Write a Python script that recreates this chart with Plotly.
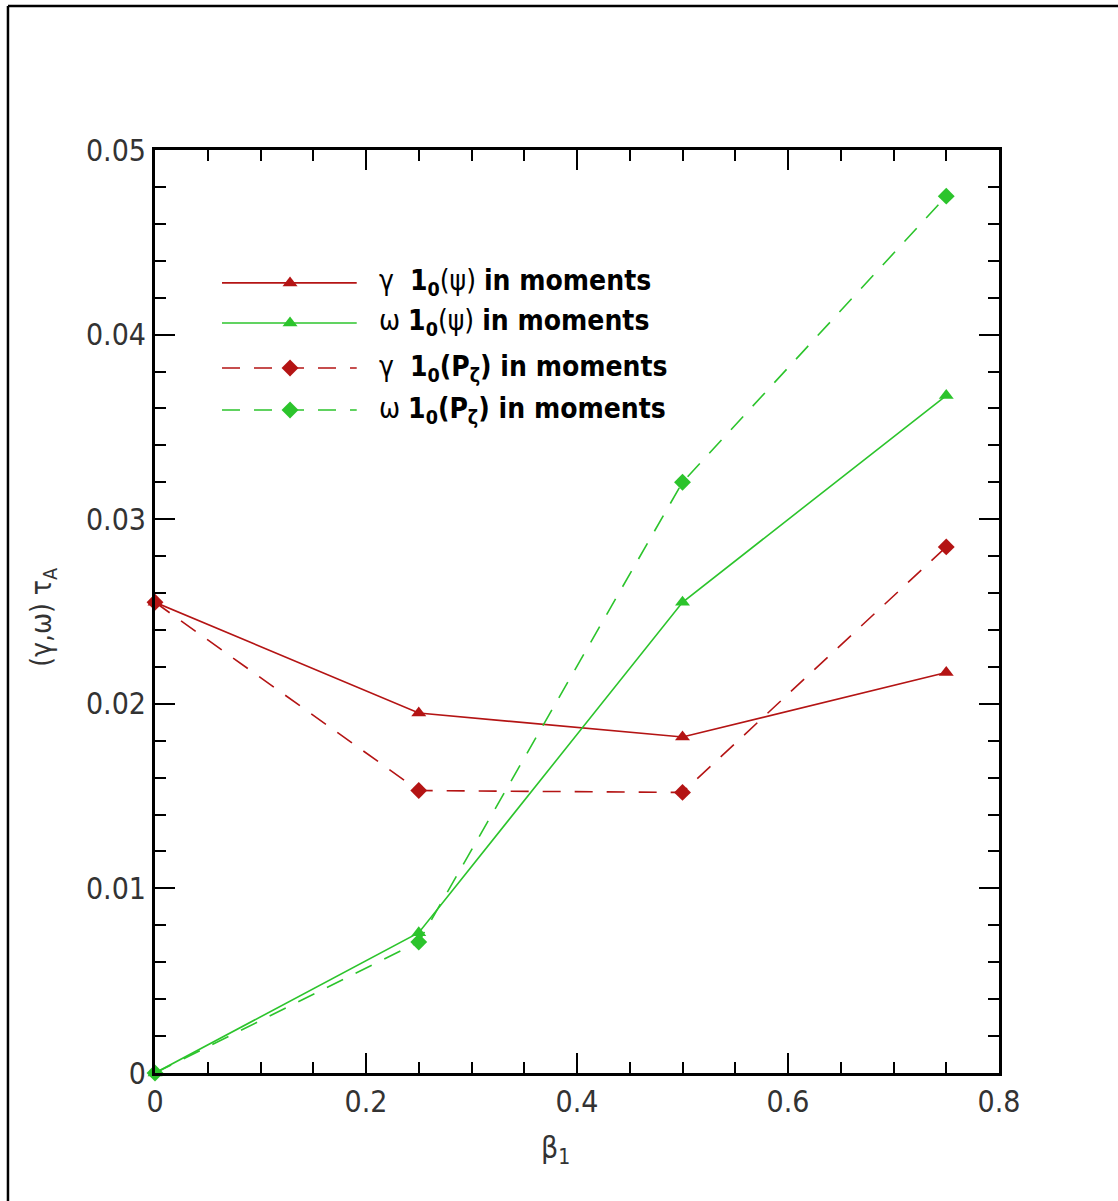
import plotly.graph_objects as go

# beta_1 values
beta = [0.0, 0.25, 0.5, 0.75]

# growth rate / frequency (normalised by tau_A)
gamma_psi = [0.0255, 0.0195, 0.0182, 0.0217]   # gamma, I0(psi) in moments
omega_psi = [0.0, 0.0076, 0.0255, 0.0367]      # omega, I0(psi) in moments
gamma_pz = [0.0255, 0.0153, 0.0152, 0.0285]    # gamma, I0(P_zeta) in moments
omega_pz = [0.0, 0.0071, 0.0320, 0.0475]       # omega, I0(P_zeta) in moments

x_ticks = [0, 0.2, 0.4, 0.6, 0.8]
y_ticks = [0, 0.01, 0.02, 0.03, 0.04, 0.05]

legend_labels = [
    "γ  <b>1<sub>0</sub></b>(ψ) <b>in moments</b>",
    "ω <b>1<sub>0</sub></b>(ψ) <b>in moments</b>",
    "γ  <b>1<sub>0</sub>(P<sub>ζ</sub>) in moments</b>",
    "ω <b>1<sub>0</sub>(P<sub>ζ</sub>) in moments</b>",
]

RED = "#B41414"
GREEN = "#2CC42C"
FONT = "DejaVu Sans Condensed, Liberation Sans, sans-serif"

series = [
    (gamma_psi, RED, "solid", "triangle-up"),
    (omega_psi, GREEN, "solid", "triangle-up"),
    (gamma_pz, RED, "18px,14px", "diamond"),
    (omega_pz, GREEN, "18px,14px", "diamond"),
]

fig = go.Figure()

for (vals, col, dash, sym), name in zip(series, legend_labels):
    fig.add_trace(go.Scatter(
        x=beta, y=vals, mode="lines+markers", name=name,
        line=dict(color=col, width=1.6, dash=dash),
        marker=dict(symbol=sym, size=13, color=col),
        cliponaxis=False, showlegend=False,
    ))

# hand-drawn key: sample line + marker on an overlay axis in unit coordinates
key_rows = [0.856, 0.8126, 0.7638, 0.7183]
key_x0, key_x1, key_xm = 0.0794, 0.239, 0.16
for (vals, col, dash, sym), ky, name in zip(series, key_rows, legend_labels):
    fig.add_trace(go.Scatter(
        x=[key_x0, key_x1], y=[ky, ky], mode="lines",
        line=dict(color=col, width=1.6, dash=dash),
        xaxis="x2", yaxis="y2", showlegend=False, hoverinfo="skip",
    ))
    fig.add_trace(go.Scatter(
        x=[key_xm], y=[ky], mode="markers",
        marker=dict(symbol=sym, size=13, color=col),
        xaxis="x2", yaxis="y2", showlegend=False, hoverinfo="skip",
    ))
    fig.add_annotation(
        x=0.263, y=ky, xref="paper", yref="paper", text=name,
        showarrow=False, xanchor="left", yanchor="middle",
        font=dict(family=FONT, size=28, color="black"),
    )

axis_common = dict(
    showline=True, linewidth=3, linecolor="black", mirror="ticks",
    ticks="inside", ticklen=20, tickwidth=2, tickcolor="black",
    showgrid=False, zeroline=False,
    tickfont=dict(family=FONT, size=30, color="#333"),
)

fig.update_layout(
    width=1118, height=1201,
    margin=dict(l=155, r=119, t=150, b=128),
    paper_bgcolor="white", plot_bgcolor="white",
    showlegend=False,
    xaxis=dict(range=[0, 0.8], tickvals=x_ticks,
               ticktext=[f"{v:g}" for v in x_ticks],
               minor=dict(dtick=0.05, ticks="inside", ticklen=11,
                          tickwidth=1.5, tickcolor="black"),
               **axis_common),
    yaxis=dict(range=[0, 0.05], tickvals=y_ticks,
               ticktext=[f"{v:g}" for v in y_ticks],
               minor=dict(dtick=0.002, ticks="inside", ticklen=11,
                          tickwidth=1.5, tickcolor="black"),
               **axis_common),
    xaxis2=dict(overlaying="x", range=[0, 1], visible=False, anchor="y2"),
    yaxis2=dict(overlaying="y", range=[0, 1], visible=False, anchor="x2"),
)

# axis titles
fig.add_annotation(
    x=0.475, y=-0.083, xref="paper", yref="paper",
    text="β<sub>1</sub>", showarrow=False, xanchor="center", yanchor="middle",
    font=dict(family=FONT, size=30, color="#333"),
)
fig.add_annotation(
    x=-0.133, y=0.494, xref="paper", yref="paper",
    text="(γ,ω) τ<sub>A</sub>", showarrow=False, textangle=-90,
    xanchor="center", yanchor="middle",
    font=dict(family=FONT, size=28, color="#333"),
)

# page frame (left and top edges)
fig.add_shape(type="line", xref="paper", yref="paper",
              x0=-0.1742, x1=-0.1742, y0=-0.2, y1=1.156,
              line=dict(color="black", width=2.5))
fig.add_shape(type="line", xref="paper", yref="paper",
              x0=-0.1742, x1=1.2, y0=1.156, y1=1.156,
              line=dict(color="black", width=2.5))

fig.write_html("out.html")
